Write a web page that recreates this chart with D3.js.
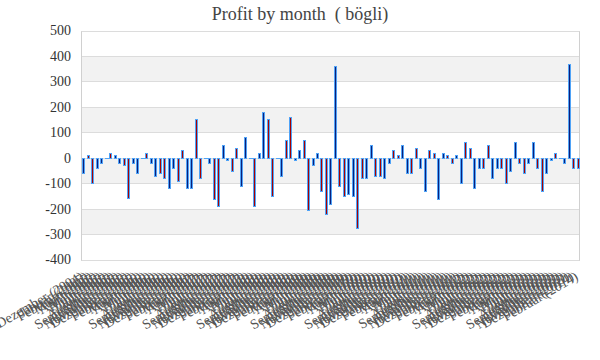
<!DOCTYPE html>
<html>
<head>
<meta charset="utf-8">
<script src="https://cdn.jsdelivr.net/npm/d3@7/dist/d3.min.js"></script>
<style>
  html, body { margin: 0; padding: 0; background: #fff; }
  svg { display: block; }
</style>
</head>
<body>
<svg id="chart" width="600" height="360"></svg>
<script>
const title = "Profit by month\u00a0\u00a0( bögli)";

const categories = [
  "Dezember (2004)",
  "Januar (2005)", "Februar (2005)", "März (2005)", "April (2005)", "Mai (2005)", "Juni (2005)",
  "Juli (2005)", "August (2005)", "September (2005)", "Oktober (2005)", "November (2005)", "Dezember (2005)",
  "Januar (2006)", "Februar (2006)", "März (2006)", "April (2006)", "Mai (2006)", "Juni (2006)",
  "Juli (2006)", "August (2006)", "September (2006)", "Oktober (2006)", "November (2006)", "Dezember (2006)",
  "Januar (2007)", "Februar (2007)", "März (2007)", "April (2007)", "Mai (2007)", "Juni (2007)",
  "Juli (2007)", "August (2007)", "September (2007)", "Oktober (2007)", "November (2007)", "Dezember (2007)",
  "Januar (2008)", "Februar (2008)", "März (2008)", "April (2008)", "Mai (2008)", "Juni (2008)",
  "Juli (2008)", "August (2008)", "September (2008)", "Oktober (2008)", "November (2008)", "Dezember (2008)",
  "Januar (2009)", "Februar (2009)", "März (2009)", "April (2009)", "Mai (2009)", "Juni (2009)",
  "Juli (2009)", "August (2009)", "September (2009)", "Oktober (2009)", "November (2009)", "Dezember (2009)",
  "Januar (2010)", "Februar (2010)", "März (2010)", "April (2010)", "Mai (2010)", "Juni (2010)",
  "Juli (2010)", "August (2010)", "September (2010)", "Oktober (2010)", "November (2010)", "Dezember (2010)",
  "Januar (2011)", "Februar (2011)", "März (2011)", "April (2011)", "Mai (2011)", "Juni (2011)",
  "Juli (2011)", "August (2011)", "September (2011)", "Oktober (2011)", "November (2011)", "Dezember (2011)",
  "Januar (2012)", "Februar (2012)", "März (2012)", "April (2012)", "Mai (2012)", "Juni (2012)",
  "Juli (2012)", "August (2012)", "September (2012)", "Oktober (2012)", "November (2012)", "Dezember (2012)",
  "Januar (2013)", "Februar (2013)", "März (2013)", "April (2013)", "Mai (2013)", "Juni (2013)",
  "Juli (2013)", "August (2013)", "September (2013)", "Oktober (2013)", "November (2013)", "Dezember (2013)",
  "Januar (2014)", "Februar (2014)"
];

const profit = [
  -60, 10, -100, -40, -20, 0, 20, 10, -20, -30,
  -160, -20, -60, 0, 20, -20, -70, -60, -80, -120,
  -40, -90, 30, -120, -120, 153, -78, 0, -20, -161,
  -188, 51, -8, -51, 39, -110, 82, 0, -190, 19,
  179, 152, -150, 0, -71, 70, 161, -9, 30, 70,
  -207, -28, 19, -130, -220, -181, 359, -111, -150, -141,
  -150, -278, -81, -81, 50, -71, -71, -81, -21, 30,
  9, 50, -60, -60, 37, -40, -130, 30, 17, -161,
  17, 9, -21, 9, -100, 60, 37, -119, -40, -40,
  50, -79, -40, -40, -99, -52, 60, -21, -60, -21,
  60, -40, -130, -60, -9, 17, 0, -21, 367, -40,
  -40
];

const yTicks = [-400, -300, -200, -100, 0, 100, 200, 300, 400, 500];

const plotLeft = 81, plotRight = 580, plotTop = 30.5, plotBottom = 259.5;

const svg = d3.select("#chart");

const x = d3.scaleBand()
  .domain(d3.range(categories.length))
  .range([plotLeft, plotRight])
  .paddingInner(0.55)
  .paddingOuter(0.275);

const y = d3.scaleLinear().domain([-400, 500]).range([plotBottom, plotTop]);
const snap = v => Math.round(v) + 0.5;

// alternating bands
const bandPairs = d3.pairs(yTicks);
svg.append("g").selectAll("rect")
  .data(bandPairs)
  .join("rect")
  .attr("x", plotLeft)
  .attr("width", plotRight - plotLeft)
  .attr("y", d => snap(y(d[1])))
  .attr("height", d => snap(y(d[0])) - snap(y(d[1])))
  .attr("fill", (d, i) => i % 2 === 1 ? "#f2f2f2" : "#ffffff");

// gridlines
svg.append("g").selectAll("line")
  .data(yTicks)
  .join("line")
  .attr("x1", plotLeft).attr("x2", plotRight)
  .attr("y1", d => snap(y(d)))
  .attr("y2", d => snap(y(d)))
  .attr("stroke", "#dcdcdc")
  .attr("stroke-width", 1);

// frame sides
svg.append("line")
  .attr("x1", plotLeft + 0.5).attr("x2", plotLeft + 0.5)
  .attr("y1", snap(y(500))).attr("y2", snap(y(-400)))
  .attr("stroke", "#d0d0d0");
svg.append("line")
  .attr("x1", plotRight - 0.5).attr("x2", plotRight - 0.5)
  .attr("y1", snap(y(500))).attr("y2", snap(y(-400)))
  .attr("stroke", "#d0d0d0");

// bars
const redFill = "#a80000", navyFill = "#0c1f7a", strokeBlue = "#4fa3f7";
const colorOf = i => (Math.floor((i + 1) / 2) % 2 === 1) ? redFill : navyFill;

const bars = svg.append("g");
bars.selectAll("rect")
  .data(profit.map((v, i) => ({ v, i })).filter(d => d.v !== 0))
  .join("rect")
  .attr("x", d => snap(x(d.i)))
  .attr("width", 2)
  .attr("y", d => snap(y(Math.max(0, d.v))))
  .attr("height", d => Math.abs(snap(y(d.v)) - snap(y(0))))
  .attr("fill", d => colorOf(d.i))
  .attr("stroke", strokeBlue)
  .attr("stroke-width", 1);

bars.selectAll("line")
  .data(profit.map((v, i) => ({ v, i })).filter(d => d.v === 0))
  .join("line")
  .attr("x1", d => Math.round(x(d.i)))
  .attr("x2", d => Math.round(x(d.i)) + 4)
  .attr("y1", snap(y(0))).attr("y2", snap(y(0)))
  .attr("stroke", strokeBlue)
  .attr("stroke-width", 1);

// y tick labels
svg.append("g").selectAll("text")
  .data(yTicks)
  .join("text")
  .attr("x", 71)
  .attr("y", d => y(d))
  .attr("dy", "0.35em")
  .attr("text-anchor", "end")
  .attr("font-family", "'Liberation Serif', serif")
  .attr("font-size", 14)
  .attr("fill", "#333")
  .text(d => d);

// x labels
svg.append("g").selectAll("text")
  .data(categories)
  .join("text")
  .attr("transform", (d, i) => `translate(${x(i) + x.bandwidth() / 2 - 3},272) rotate(-30)`)
  .attr("dy", "0.6em")
  .attr("text-anchor", "end")
  .attr("font-family", "'Liberation Serif', serif")
  .attr("font-size", 14)
  .attr("fill", "#555")
  .text(d => d);

// title
svg.append("text")
  .attr("x", 300)
  .attr("y", 20)
  .attr("text-anchor", "middle")
  .attr("font-family", "'Liberation Serif', serif")
  .attr("font-size", 18)
  .attr("fill", "#444")
  .text(title);
</script>
</body>
</html>
